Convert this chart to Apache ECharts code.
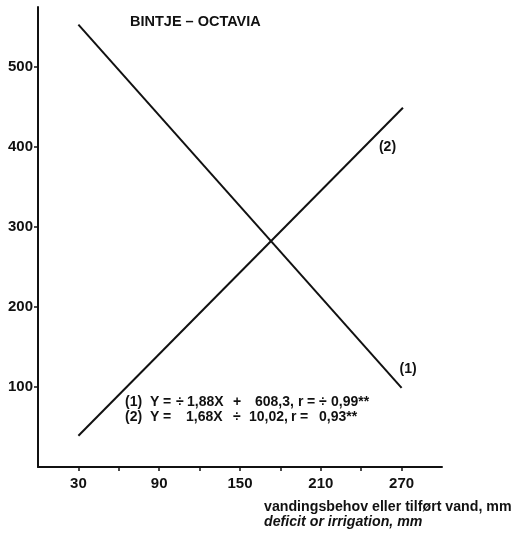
<!DOCTYPE html>
<html>
<head>
<meta charset="utf-8">
<script src="https://cdn.jsdelivr.net/npm/echarts@6/dist/echarts.min.js"></script>
<style>
html,body{margin:0;padding:0;background:#fff;}
#chart{width:517px;height:533px;}
</style>
</head>
<body>
<div id="chart"></div>
<script>
// ---- data ----
const titleText = 'BINTJE – OCTAVIA';
const xTickValues = [30, 60, 90, 120, 150, 180, 210, 240, 270];
const xTickLabels = [30, 90, 150, 210, 270];
const yTickLabels = [100, 200, 300, 400, 500];
const line1X = [30, 270];
const line1Y = [553, 99];
const line2X = [30, 271];
const line2Y = [39, 449];
const line1Name = '(1)';
const line2Name = '(2)';
const equation1Tokens = ['(1)', 'Y', '=', '÷', '1,88X', '+', '608,3,', 'r', '=', '÷', '0,99**'];
const equation2Tokens = ['(2)', 'Y', '=', '1,68X', '÷', '10,02,', 'r', '=', '0,93**'];
const xTitle1 = 'vandingsbehov eller tilført vand, mm';
const xTitle2 = 'deficit or irrigation, mm';

// ---- layout (left edges of the text tokens, not data) ----
const eq1Left = [125, 150, 163, 176, 187, 233, 255, 298, 307, 319, 331];
const eq2Left = [125, 150, 163, 186, 233, 249, 291, 300, 319];

const FONT = '"Liberation Sans", Arial, Helvetica, sans-serif';
const EQ_FONT = 'bold 14px ' + FONT;
const INK = '#111';

function pairs(xs, ys) { return xs.map((x, i) => [x, ys[i]]); }

function tokenTexts(tokens, lefts, yMid) {
  return tokens.map((t, i) => ({
    type: 'text', x: lefts[i], y: yMid,
    style: {text: t, fill: INK, font: EQ_FONT, textVerticalAlign: 'middle', verticalAlign: 'middle'}
  }));
}

const chart = echarts.init(document.getElementById('chart'), null, {renderer: 'canvas'});

chart.setOption({
  animation: false,
  backgroundColor: '#fff',
  grid: {left: 38, right: 75, top: 7, bottom: 66, containLabel: false},
  xAxis: {
    type: 'value', min: 0, max: 300, interval: 30,
    axisLine: {show: true, lineStyle: {color: INK, width: 2}},
    axisTick: {show: true, inside: false, length: 4, customValues: xTickValues,
      lineStyle: {color: INK, width: 1.5}},
    splitLine: {show: false},
    axisLabel: {
      margin: 9, color: INK, fontFamily: FONT, fontSize: 15, fontWeight: 'bold',
      customValues: xTickLabels
    }
  },
  yAxis: {
    type: 'value', min: 0, max: 575, interval: 100,
    axisLine: {show: true, lineStyle: {color: INK, width: 2}},
    axisTick: {show: true, inside: false, length: 4, customValues: yTickLabels,
      lineStyle: {color: INK, width: 1.5}},
    splitLine: {show: false},
    axisLabel: {
      margin: 5, color: INK, fontFamily: FONT, fontSize: 15, fontWeight: 'bold',
      customValues: yTickLabels
    }
  },
  series: [
    {
      type: 'line', name: line1Name, data: pairs(line1X, line1Y),
      symbol: 'none', lineStyle: {color: INK, width: 2},
      endLabel: {show: true, formatter: line1Name, color: INK, fontFamily: FONT,
        fontSize: 14, fontWeight: 'bold', offset: [-10, -19]}
    },
    {
      type: 'line', name: line2Name, data: pairs(line2X, line2Y),
      symbol: 'none', lineStyle: {color: INK, width: 2},
      endLabel: {show: true, formatter: line2Name, color: INK, fontFamily: FONT,
        fontSize: 14, fontWeight: 'bold', offset: [-32, 39]}
    }
  ],
  graphic: [
    {type: 'text', x: 130, y: 22,
      style: {text: titleText, fill: INK, font: 'bold 14.5px ' + FONT, textVerticalAlign: 'middle', verticalAlign: 'middle'}},
    {type: 'text', x: 264, y: 507,
      style: {text: xTitle1, fill: INK, font: 'bold 14.2px ' + FONT, textVerticalAlign: 'middle', verticalAlign: 'middle'}},
    {type: 'text', x: 264, y: 522,
      style: {text: xTitle2, fill: INK, font: 'italic bold 14.2px ' + FONT, textVerticalAlign: 'middle', verticalAlign: 'middle'}}
  ].concat(tokenTexts(equation1Tokens, eq1Left, 402), tokenTexts(equation2Tokens, eq2Left, 417))
});
</script>
</body>
</html>
